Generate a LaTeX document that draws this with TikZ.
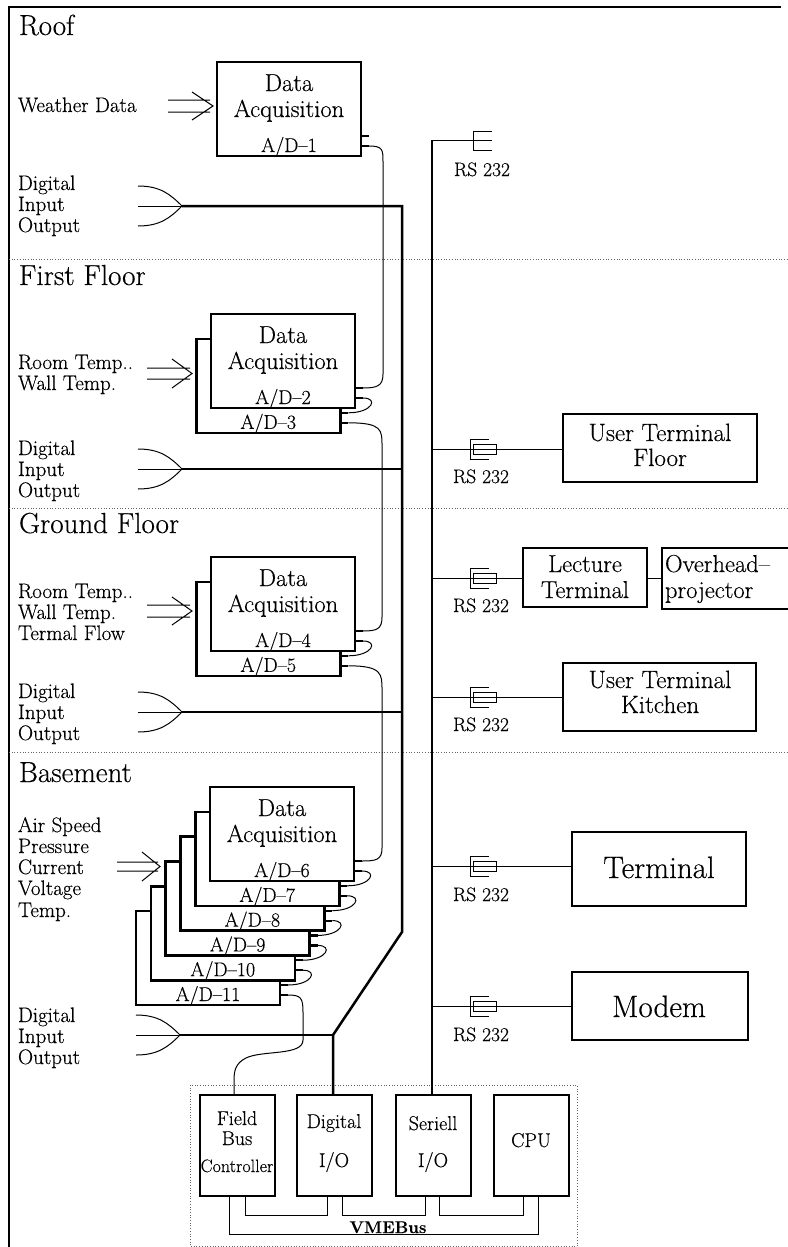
\documentclass[tikz,border=0pt]{standalone}
\usepackage{fontspec}
\setmainfont{Latin Modern Roman}[FakeBold=0.35]
\newcommand\rsjack[1]{\draw[wire] (489,#1-10) -- (470,#1-10) -- (470,#1+10) -- (489,#1+10); \draw[wire] (473,#1-5) rectangle (496,#1+5);}
\begin{document}
\begin{tikzpicture}[x=1pt,y=-1pt,
  every node/.style={inner sep=0pt,outer sep=0pt},
  busln/.style={line width=2.5pt},
  wire/.style={line width=1pt},
  stub/.style={line width=2.2pt},
  dab/.style={draw,line width=2.6pt,fill=white,minimum width=144pt,minimum height=94pt,anchor=north west},
  tbox/.style={draw,line width=2.2pt,anchor=north west},
  vbox/.style={draw,line width=2.6pt,anchor=north west,minimum width=75pt,minimum height=101pt},
  sepln/.style={line width=0.7pt,dotted,black!60},
  ttl/.style={anchor=base west,font=\fontsize{29}{32}\selectfont},
  lbl/.style={anchor=base west,font=\fontsize{21}{22}\selectfont},
  dtx/.style={anchor=base,font=\fontsize{24.5}{26}\selectfont},
  adl/.style={anchor=base,font=\fontsize{20}{22}\selectfont},
  rsl/.style={anchor=base,font=\fontsize{19.5}{21}\selectfont},
  ttx/.style={anchor=base,font=\fontsize{25}{27}\selectfont},
  ltx/.style={anchor=base,font=\fontsize{24.5}{26}\selectfont},
  btx/.style={anchor=base,font=\fontsize{31}{33}\selectfont},
  vtx/.style={anchor=base,font=\fontsize{20}{22}\selectfont}]
\useasboundingbox (0,0) rectangle (787,1247);
% frame and separators
\draw[line width=2pt] (9,1247) -- (9,7) -- (781,7);
\draw[sepln] (9,259) -- (787,259);
\draw[sepln] (9,508) -- (787,508);
\draw[sepln] (9,752) -- (787,752);
% titles
\node[ttl] (troof) at (19,35) {Roof};
\node[ttl] (tff) at (19,285) {First Floor};
\node[ttl] (tgf) at (19,533) {Ground Floor};
\node[ttl] (tbs) at (19,782) {Basement};
% ---------- Roof
\node[lbl] (wd) at (18,112) {Weather Data};
\draw[wire] (168,100) -- (210,100) (168,112) -- (210,112) (192,92) -- (213,106) -- (192,120);
\node[dab] (ad1) at (217,62) {};
\node[dtx] (ad1a) at (289,91) {Data};
\node[dtx] (ad1b) at (289,117) {Acquisition};
\node[adl] (ad1c) at ([yshift=4pt]ad1.south) {A/D--1};
\draw[stub] ([yshift=20pt]ad1.south east) -- ++(8,0);
\draw[stub] ([yshift=10pt]ad1.south east) -- ++(8,0);
\node[lbl] (rd1) at (18,190) {Digital};
\node[lbl] (rd2) at (18,211) {Input};
\node[lbl] (rd3) at (18,232) {Output};
\coordinate (rj) at (182,206);
\draw[wire] (138,186) .. controls (160,186) and (170,194) .. (rj);
\draw[wire] (138,226) .. controls (160,226) and (170,218) .. (rj);
\draw[wire] (138,206) -- (rj);
% ---------- First floor
\node[lbl] (f1) at (18,369) {Room Temp..};
\node[lbl] (f2) at (18,390) {Wall Temp.};
\draw[wire] (147,368) -- (190,368) (147,379) -- (190,379) (172,359) -- (192,373.5) -- (172,388);
\node[dab] (ff1) at (196.3,338.8) {};
\node[adl] (ff1l) at ([yshift=4pt]ff1.south) {A/D--3};
\draw[stub] ([yshift=20pt]ff1.south east) -- ++(8,0);
\draw[stub] ([yshift=10pt]ff1.south east) -- ++(8,0);
\node[dab] (ff0) at (211,314) {};
\node[dtx] (ff0a) at (283,343) {Data};
\node[dtx] (ff0b) at (283,369) {Acquisition};
\node[adl] (ff0l) at ([yshift=4pt]ff0.south) {A/D--2};
\draw[stub] ([yshift=20pt]ff0.south east) -- ++(8,0);
\draw[stub] ([yshift=10pt]ff0.south east) -- ++(8,0);
\node[lbl] (fd1) at (18,455) {Digital};
\node[lbl] (fd2) at (18,476) {Input};
\node[lbl] (fd3) at (18,497) {Output};
\coordinate (fj) at (182,469);
\draw[wire] (138,449) .. controls (160,449) and (170,457) .. (fj);
\draw[wire] (138,489) .. controls (160,489) and (170,481) .. (fj);
\draw[wire] (138,469) -- (fj);
% ---------- Ground floor
\node[lbl] (g1) at (18,598) {Room Temp..};
\node[lbl] (g2) at (18,619) {Wall Temp.};
\node[lbl] (g3) at (18,640) {Termal Flow};
\draw[wire] (147,605) -- (190,605) (147,617) -- (190,617) (172,597) -- (192,611) -- (172,625);
\node[dab] (gf1) at (196.3,581.8) {};
\node[adl] (gf1l) at ([yshift=4pt]gf1.south) {A/D--5};
\draw[stub] ([yshift=20pt]gf1.south east) -- ++(8,0);
\draw[stub] ([yshift=10pt]gf1.south east) -- ++(8,0);
\node[dab] (gf0) at (211,557) {};
\node[dtx] (gf0a) at (283,586) {Data};
\node[dtx] (gf0b) at (283,612) {Acquisition};
\node[adl] (gf0l) at ([yshift=4pt]gf0.south) {A/D--4};
\draw[stub] ([yshift=20pt]gf0.south east) -- ++(8,0);
\draw[stub] ([yshift=10pt]gf0.south east) -- ++(8,0);
\node[lbl] (gd1) at (18,698) {Digital};
\node[lbl] (gd2) at (18,719) {Input};
\node[lbl] (gd3) at (18,740) {Output};
\coordinate (gj) at (182,712);
\draw[wire] (138,692) .. controls (160,692) and (170,700) .. (gj);
\draw[wire] (138,732) .. controls (160,732) and (170,724) .. (gj);
\draw[wire] (138,712) -- (gj);
% ---------- Basement
\node[lbl] (b1) at (18,832) {Air Speed};
\node[lbl] (b2) at (18,853) {Pressure};
\node[lbl] (b3) at (18,874) {Current};
\node[lbl] (b4) at (18,895) {Voltage};
\node[lbl] (b5) at (18,917) {Temp.};
\draw[wire] (117,862) -- (158,862) (117,871) -- (158,871) (142,852) -- (160,866.5) -- (142,881);
\foreach \k in {5,4,3,2,1,0}{
  \pgfmathsetmacro\L{210-14.8*\k}
  \pgfmathsetmacro\T{787+24.8*\k}
  \pgfmathtruncatemacro\n{6+\k}
  \node[dab] (bs\k) at (\L,\T) {};
  \node[adl] (bsl\k) at ([yshift=4pt]bs\k.south) {A/D--\n};
  \draw[stub] ([yshift=20pt]bs\k.south east) -- ++(8,0);
  \draw[stub] ([yshift=10pt]bs\k.south east) -- ++(8,0);
}
\node[dtx] (bs0a) at (282,816) {Data};
\node[dtx] (bs0b) at (282,842) {Acquisition};
\foreach \k [evaluate=\k as \j using int(\k-1)] in {1,...,5}{
  \draw[wire] ([xshift=8pt,yshift=10pt]bs\j.south east) .. controls +(16,0) and +(24,0) .. ([xshift=8pt,yshift=20pt]bs\k.south east);
}
\draw[wire] ([xshift=8pt,yshift=10pt]ff0.south east) .. controls +(16,0) and +(24,0) .. ([xshift=8pt,yshift=20pt]ff1.south east);
\draw[wire] ([xshift=8pt,yshift=10pt]gf0.south east) .. controls +(16,0) and +(24,0) .. ([xshift=8pt,yshift=20pt]gf1.south east);
\node[lbl] (bd1) at (18,1022) {Digital};
\node[lbl] (bd2) at (18,1043) {Input};
\node[lbl] (bd3) at (18,1064) {Output};
\coordinate (bj) at (180,1035);
\draw[wire] (136,1015) .. controls (158,1015) and (168,1023) .. (bj);
\draw[wire] (136,1055) .. controls (158,1055) and (168,1047) .. (bj);
\draw[wire] (136,1035) -- (bj);
% ---------- field bus cable
\draw[wire] ([xshift=8pt,yshift=10pt]ad1.south east) .. controls +(14,0) and +(0,-12) .. (383,162) -- (383,374) .. controls +(0,12) and +(14,0) .. ([xshift=8pt,yshift=20pt]ff0.south east);
\draw[wire] ([xshift=8pt,yshift=10pt]ff1.south east) .. controls +(34,0) and +(0,-16) .. (382,446) -- (382,617) .. controls +(0,12) and +(14,0) .. ([xshift=8pt,yshift=20pt]gf0.south east);
\draw[wire] ([xshift=8pt,yshift=10pt]gf1.south east) .. controls +(34,0) and +(0,-16) .. (382,690) -- (382,848) .. controls +(0,12) and +(14,0) .. ([xshift=8pt,yshift=20pt]bs0.south east);
% ---------- VME rack
\draw[sepln] (190,1085) rectangle (577,1246);
\node[vbox] (fb) at (200,1095) {};
\node[vbox] (di) at (297,1095) {};
\node[vbox] (si) at (396,1095) {};
\node[vbox] (cpu) at (494,1095) {};
\node[vtx] (fbt1) at (237,1125) {Field};
\node[vtx] (fbt2) at (237,1145) {Bus};
\node[vtx,font=\fontsize{18}{20}\selectfont] (fbt3) at (237,1172) {Controller};
\node[vtx] (dit1) at (334,1128) {Digital};
\node[vtx] (dit2) at (334,1167) {I/O};
\node[vtx] (sit1) at (433,1130) {Seriell};
\node[vtx] (sit2) at (433,1167) {I/O};
\node[vtx] (cput) at (531,1147) {CPU};
\draw[wire] (245,1196) -- (245,1215) -- (327,1215) -- (327,1196);
\draw[wire] (342,1196) -- (342,1215) -- (425,1215) -- (425,1196);
\draw[wire] (439,1196) -- (439,1215) -- (523,1215) -- (523,1196);
\draw[wire] (229,1196) -- (229,1234) -- (538,1234) -- (538,1196);
\node[anchor=base,font=\bfseries\fontsize{17}{19}\selectfont] (vme) at (388,1233) {VMEBus};
\draw[wire] ([xshift=8pt,yshift=10pt]bs5.south east) .. controls +(13,0) and +(0,-14) .. (303,1012) -- (303,1040) .. controls (303,1056) and (262,1050) .. (246,1058) .. controls (236,1063) and (234,1070) .. (234,1080) -- (234,1095);
% ---------- digital bus
\draw[busln] (rj) -- (402,206) -- (402,932) -- (333,1035) -- (333,1095);
\draw[busln] (fj) -- (402,469);
\draw[busln] (gj) -- (402,712);
\draw[busln] (bj) -- (333,1035);
% ---------- serial bus
\draw[busln] (432,140) -- (432,1095);
\draw[wire] (432,140) -- (492,140);
\draw[wire] (492,131) -- (473,131) -- (473,150) -- (492,150);
\node[rsl] (rs0) at (482,176) {RS 232};
% terminals
\node[tbox,minimum width=194pt,minimum height=68pt] (utf) at (563,414) {};
\node[ttx] (utf1) at (660,441) {User Terminal};
\node[ttx] (utf2) at (660,466) {Floor};
\draw[wire] (432,449) -- (utf.west |- 0,449);
\rsjack{449}
\node[rsl] (rs1) at (481,483) {RS 232};
\node[tbox,minimum width=124pt,minimum height=59pt] (lt) at (523,548) {};
\node[ltx] (lt1) at (585,572) {Lecture};
\node[ltx] (lt2) at (585,598) {Terminal};
\draw[wire] (432,578) -- (lt.west |- 0,578);
\rsjack{578}
\node[rsl] (rs2) at (481,612) {RS 232};
\draw[line width=2.2pt] (790,548) -- (662,548) -- (662,609) -- (790,609);
\node[ltx,anchor=base west] (oh1) at (665,572) {Overhead--};
\node[ltx,anchor=base west] (oh2) at (665,598) {projector};
\draw[wire] (lt.east |- 0,578) -- (662,578);
\node[tbox,minimum width=193pt,minimum height=68pt] (utk) at (563,663) {};
\node[ttx] (utk1) at (660,688) {User Terminal};
\node[ttx] (utk2) at (660,713) {Kitchen};
\draw[wire] (432,697) -- (utk.west |- 0,697);
\rsjack{697}
\node[rsl] (rs3) at (481,731) {RS 232};
\node[tbox,minimum width=174pt,minimum height=74pt] (term) at (572,832) {};
\node[btx] (termt) at (659,878) {Terminal};
\draw[wire] (432,866) -- (term.west |- 0,866);
\rsjack{866}
\node[rsl] (rs4) at (481,901) {RS 232};
\node[tbox,minimum width=176pt,minimum height=68pt] (mod) at (572,972) {};
\node[btx] (modt) at (659,1017) {Modem};
\draw[wire] (432,1006) -- (mod.west |- 0,1006);
\rsjack{1006}
\node[rsl] (rs5) at (481,1041) {RS 232};
\end{tikzpicture}
\end{document}
